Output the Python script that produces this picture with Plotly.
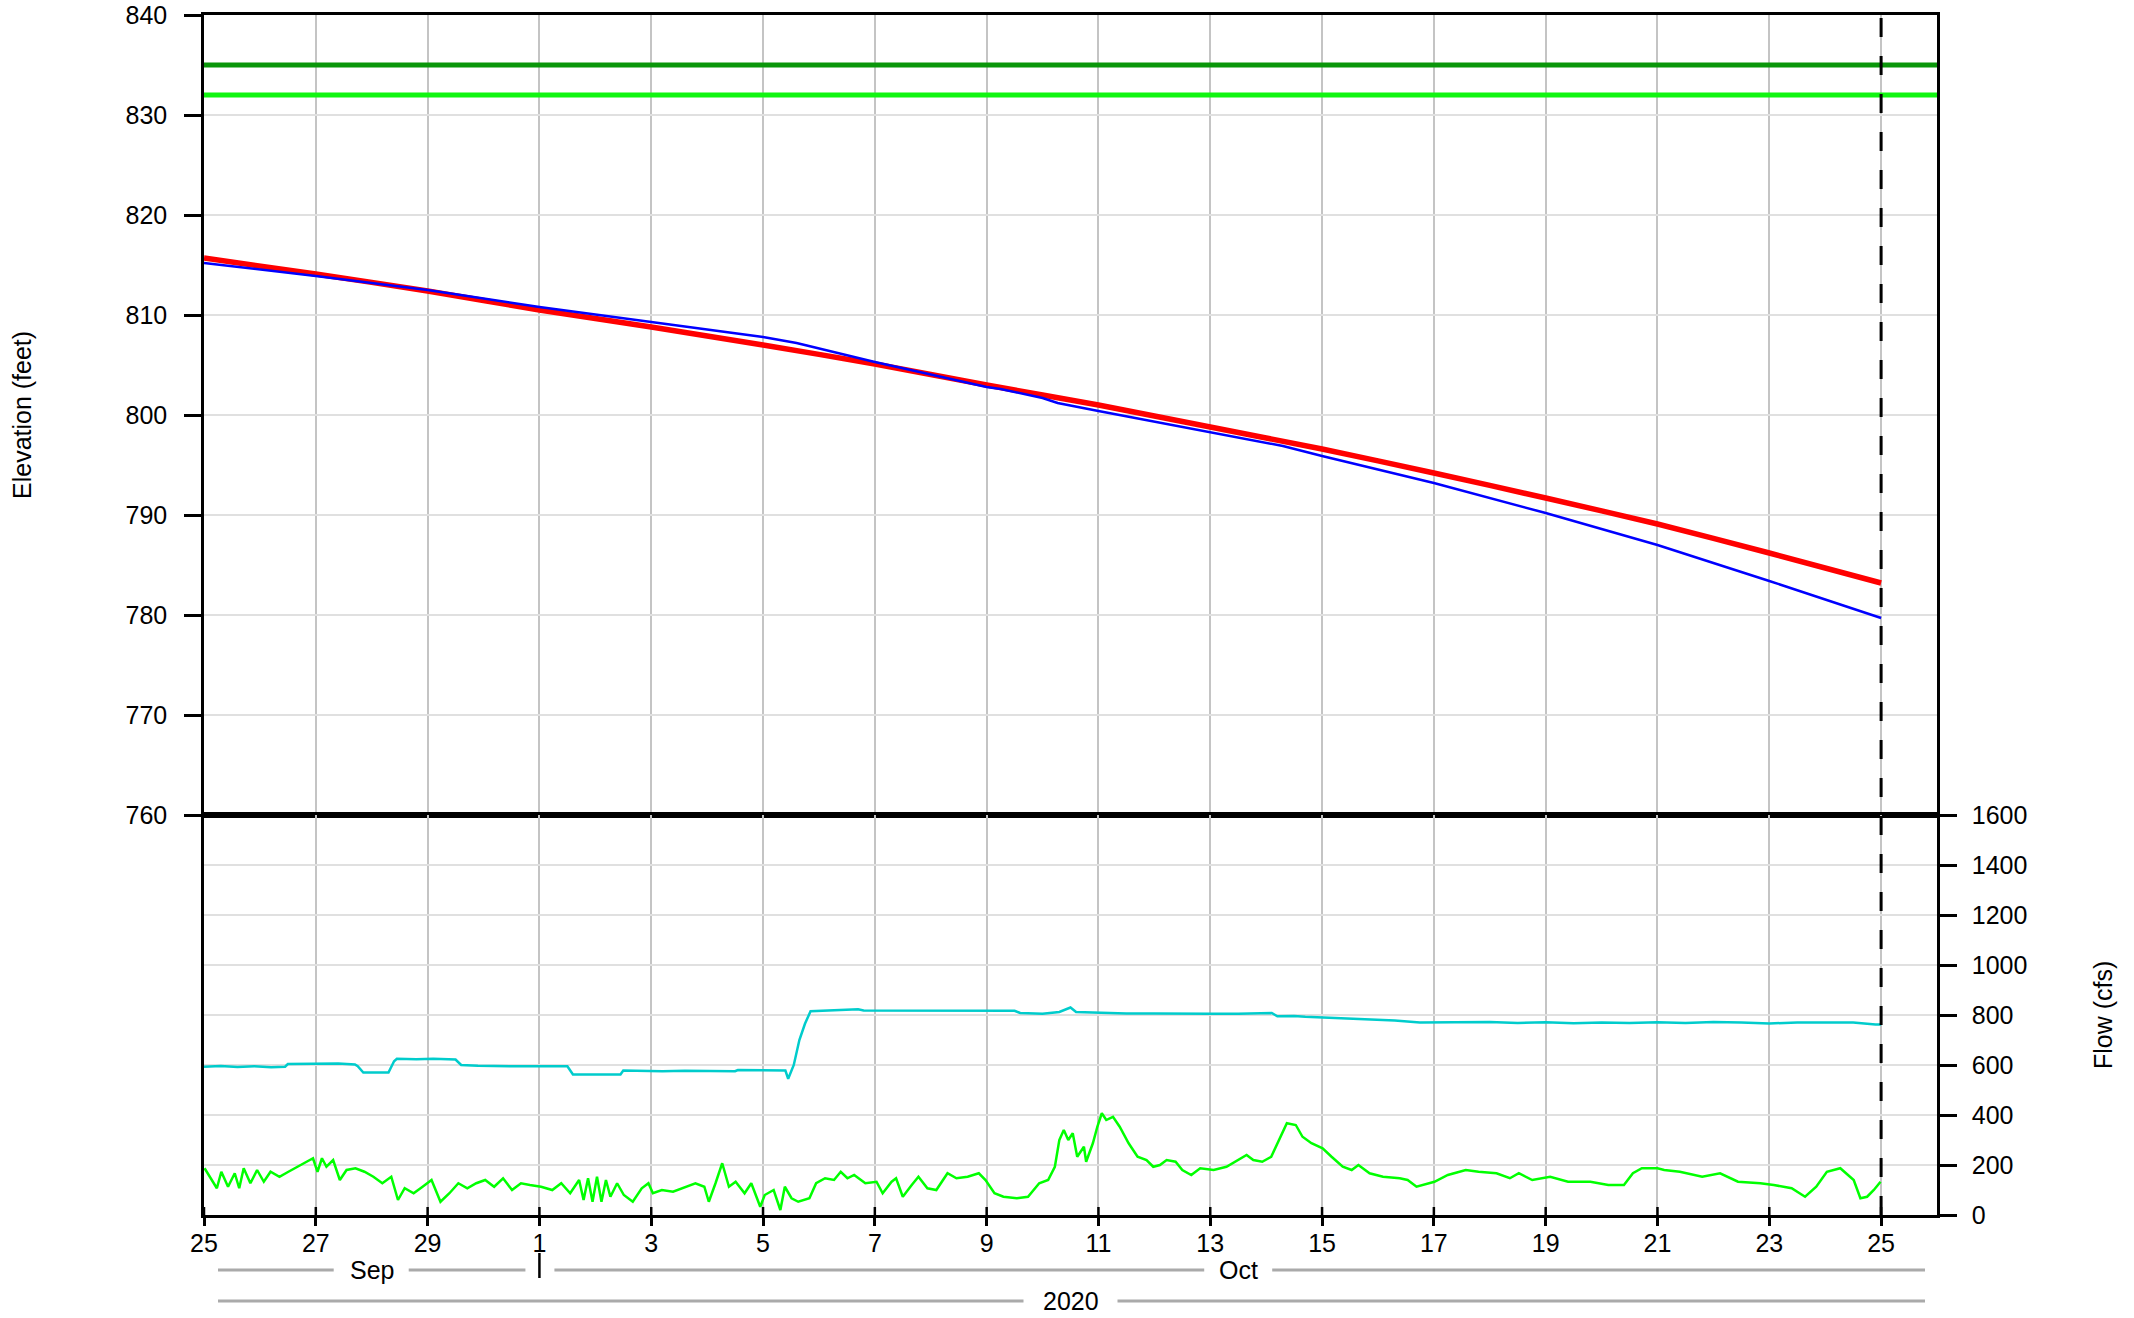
import pandas as pd
import plotly.graph_objects as go

# ---------------- data ----------------
START = "2020-09-25"
END = "2020-10-26"
CURRENT = "2020-10-25"

tick_dates = ["2020-09-25", "2020-09-27", "2020-09-29", "2020-10-01", "2020-10-03",
              "2020-10-05", "2020-10-07", "2020-10-09", "2020-10-11", "2020-10-13",
              "2020-10-15", "2020-10-17", "2020-10-19", "2020-10-21", "2020-10-23",
              "2020-10-25"]
tick_labels = ["25", "27", "29", "1", "3", "5", "7", "9", "11", "13", "15", "17",
               "19", "21", "23", "25"]

# reference levels (feet)
level_values = [835, 832]
level_colors = ["#0a960a", "#11f511"]

# elevation, days since Sep 25
blue_days = [0, 2, 4, 6, 8, 10, 10.6, 12, 14, 14.25, 15.0, 15.27, 16, 18, 19.3, 20,
             22, 24, 26, 28, 30]
blue_elev = [815.2, 813.9, 812.5, 810.8, 809.3, 807.8, 807.2, 805.3, 802.8, 802.6,
             801.7, 801.2, 800.4, 798.3, 796.9, 795.9, 793.2, 790.2, 787.0, 783.4, 779.7]

red_days = [0, 2, 4, 6, 8, 10, 12, 14, 16, 18, 20, 22, 24, 26, 28, 30]
red_elev = [815.7, 814.1, 812.4, 810.5, 808.8, 807.0, 805.1, 803.0, 801.0, 798.8,
            796.6, 794.2, 791.7, 789.1, 786.2, 783.2]

# flow (cfs)
cyan_days = [0.0, 0.3, 0.6, 0.9, 1.2, 1.45, 1.5, 1.8, 2.1, 2.4, 2.7, 2.75, 2.85, 3.3,
             3.4, 3.45, 3.8, 4.1, 4.5, 4.6, 4.9, 5.2, 5.6, 6.0, 6.5, 6.6, 7.0, 7.45,
             7.5, 7.8, 8.2, 8.6, 9.0, 9.5, 9.55, 10.0, 10.4, 10.45, 10.55, 10.65, 10.75,
             10.85, 11.2, 11.7, 11.8, 12.5, 13.5, 14.5, 14.6, 15.0, 15.3, 15.5, 15.6,
             16.0, 16.5, 17.0, 17.5, 18.0, 18.5, 19.0, 19.1, 19.2, 19.5, 19.7, 20.0,
             20.5, 20.9, 21.3, 21.75, 22.3, 23.0, 23.5, 24.0, 24.5, 25.0, 25.5, 26.0,
             26.5, 27.0, 27.5, 28.0, 28.5, 29.0, 29.5, 29.9, 30.0]
cyan_flow = [593, 596, 592, 595, 591, 593, 604, 605, 603, 606, 602, 595, 570, 570,
             615, 625, 623, 625, 622, 600, 597, 595, 595, 595, 595, 562, 562, 562,
             578, 576, 575, 577, 575, 575, 580, 578, 578, 545, 600, 700, 765,
             815, 818, 823, 818, 818, 818, 817, 808, 805, 812, 830, 812,
             808, 806, 806, 804, 805, 805, 806, 808, 795, 796, 793, 790,
             788, 782, 778, 770, 770, 772, 768, 771, 767, 770, 768, 771,
             768, 772, 770, 766, 770, 769, 770, 762, 762]

green_days = [0.01, 0.11, 0.23, 0.31, 0.43, 0.55, 0.63, 0.71, 0.83, 0.95, 1.07, 1.19,
              1.35, 1.51, 1.67, 1.83, 1.95, 2.03, 2.11, 2.19, 2.31, 2.43, 2.55, 2.71,
              2.87, 3.03, 3.19, 3.35, 3.47, 3.59, 3.75, 3.91, 4.07, 4.23, 4.39, 4.55,
              4.71, 4.87, 5.03, 5.19, 5.35, 5.51, 5.67, 5.83, 6.03, 6.23, 6.39, 6.55,
              6.71, 6.79, 6.87, 6.95, 7.03, 7.11, 7.19, 7.27, 7.39, 7.51, 7.67, 7.83,
              7.95, 8.03, 8.19, 8.39, 8.55, 8.79, 8.95, 9.03, 9.15, 9.27, 9.39, 9.51,
              9.67, 9.79, 9.95, 10.03, 10.19, 10.31, 10.39, 10.51, 10.63, 10.83, 10.95,
              11.11, 11.27, 11.39, 11.51, 11.63, 11.83, 12.03, 12.14, 12.30, 12.38,
              12.50, 12.66, 12.78, 12.94, 13.10, 13.30, 13.46, 13.66, 13.86, 13.98,
              14.14, 14.30, 14.54, 14.74, 14.94, 15.10, 15.22, 15.30, 15.38, 15.46,
              15.54, 15.62, 15.74, 15.78, 15.90, 15.98, 16.06, 16.14, 16.26, 16.38,
              16.54, 16.70, 16.86, 16.98, 17.10, 17.22, 17.38, 17.50, 17.66, 17.82,
              18.06, 18.29, 18.45, 18.65, 18.77, 18.93, 19.09, 19.25, 19.37, 19.53,
              19.65, 19.81, 20.01, 20.17, 20.37, 20.53, 20.65, 20.85, 21.09, 21.39,
              21.53, 21.69, 22.01, 22.25, 22.57, 22.80, 23.12, 23.36, 23.52, 23.76,
              24.08, 24.40, 24.80, 25.12, 25.40, 25.56, 25.72, 26.00, 26.12, 26.40,
              26.80, 27.12, 27.44, 27.84, 28.08, 28.40, 28.64, 28.84, 29.03, 29.27,
              29.51, 29.63, 29.75, 29.87, 29.99]
green_flow = [187, 153, 107, 173, 113, 167, 107, 187, 127, 180, 133, 173,
              153, 173, 193, 213, 227, 173, 227, 193, 220, 140, 180, 187,
              173, 153, 127, 153, 60, 107, 87, 113, 140, 53, 87, 127,
              107, 127, 140, 113, 147, 100, 127, 120, 113, 100, 127, 87,
              140, 60, 147, 53, 153, 53, 140, 73, 127, 80, 53, 107,
              127, 87, 100, 93, 107, 127, 113, 53, 127, 207, 113, 133,
              87, 127, 33, 80, 100, 20, 113, 67, 53, 67, 127,
              147, 140, 173, 147, 160, 127, 133, 87, 133, 147,
              73, 120, 153, 107, 100, 167, 147, 153, 167, 140,
              87, 73, 67, 73, 127, 140, 193, 300, 340, 300,
              327, 233, 273, 213, 287, 353, 407, 380, 393, 353,
              287, 233, 220, 193, 200, 220, 213, 180, 160, 187,
              180, 193, 213, 240, 220, 213, 233, 313, 367, 360,
              313, 287, 267, 233, 193, 180, 200, 167, 153, 147,
              140, 113, 133, 160, 180, 173, 167, 147, 167, 140,
              153, 133, 133, 120, 120, 167, 187, 187, 180, 173,
              153, 167, 133, 127, 120, 107, 73, 113, 173, 187,
              140, 67, 73, 100, 133]

# ---------------- helpers ----------------
t0 = pd.Timestamp(START)
t1 = pd.Timestamp(END)


def to_dates(days):
    return [t0 + pd.Timedelta(days=d) for d in days]


PLOT_W, PLOT_H = 1733, 1200
ML, MR, MT, MB = 204, 197, 15, 103


def px_x(date, dx=0.0):
    frac = (pd.Timestamp(date) - t0) / (t1 - t0)
    return frac + dx / PLOT_W


def px_y(dy):  # dy pixels below the plot bottom -> paper y
    return -dy / PLOT_H


FONT = "Liberation Sans, Arial, sans-serif"
FS = 25

fig = go.Figure()

# reference levels
for v, c in zip(level_values, level_colors):
    fig.add_trace(go.Scatter(x=[t0, t1], y=[v, v], mode="lines",
                             line=dict(color=c, width=5), xaxis="x", yaxis="y",
                             hoverinfo="skip", showlegend=False))

fig.add_trace(go.Scatter(x=to_dates(red_days), y=red_elev, mode="lines",
                         line=dict(color="#ff0000", width=5.5, shape="spline", smoothing=0.6),
                         xaxis="x", yaxis="y", showlegend=False))
fig.add_trace(go.Scatter(x=to_dates(blue_days), y=blue_elev, mode="lines",
                         line=dict(color="#0000ff", width=2.5),
                         xaxis="x", yaxis="y", showlegend=False))

fig.add_trace(go.Scatter(x=to_dates(cyan_days), y=cyan_flow, mode="lines",
                         line=dict(color="#00cccc", width=2.5),
                         xaxis="x2", yaxis="y2", showlegend=False))
fig.add_trace(go.Scatter(x=to_dates(green_days), y=green_flow, mode="lines",
                         line=dict(color="#00ff00", width=2.5),
                         xaxis="x2", yaxis="y2", showlegend=False))

shapes = []
# current-time dashed line
shapes.append(dict(type="line", xref="x", yref="paper", x0=CURRENT, x1=CURRENT,
                   y0=0, y1=1, line=dict(color="black", width=3, dash="19px,19px"),
                   layer="above"))
# inside halves of bottom x ticks
for d in tick_dates:
    shapes.append(dict(type="line", xref="x2", yref="paper", x0=d, x1=d,
                       y0=0, y1=8 / PLOT_H, line=dict(color="black", width=2.5),
                       layer="above"))

gray = dict(color="#aaaaaa", width=3)
row1 = px_y(55)
row2 = px_y(86)
sep_c = (px_x("2020-09-25") + px_x("2020-10-01")) / 2
oct_c = (px_x("2020-10-01") + px_x(END)) / 2
yr_c = 0.5
segs = [
    (px_x("2020-09-25", 14), sep_c - 38 / PLOT_W, row1),
    (sep_c + 37 / PLOT_W, px_x("2020-10-01", -14), row1),
    (px_x("2020-10-01", 15), oct_c - 34 / PLOT_W, row1),
    (oct_c + 34 / PLOT_W, px_x(END, -12), row1),
    (px_x(START, 14), yr_c - 47 / PLOT_W, row2),
    (yr_c + 47 / PLOT_W, px_x(END, -12), row2),
]
for a, b, yy in segs:
    shapes.append(dict(type="line", xref="paper", yref="paper", x0=a, x1=b,
                       y0=yy, y1=yy, line=gray))
# month separator tick
shapes.append(dict(type="line", xref="paper", yref="paper",
                   x0=px_x("2020-10-01"), x1=px_x("2020-10-01"),
                   y0=px_y(38), y1=px_y(63), line=dict(color="black", width=2.5)))

annotations = [
    dict(text="Sep", x=sep_c, y=row1, xref="paper", yref="paper", showarrow=False,
         xanchor="center", yanchor="middle", font=dict(family=FONT, size=FS, color="black")),
    dict(text="Oct", x=oct_c, y=row1, xref="paper", yref="paper", showarrow=False,
         xanchor="center", yanchor="middle", font=dict(family=FONT, size=FS, color="black")),
    dict(text="2020", x=yr_c, y=row2, xref="paper", yref="paper", showarrow=False,
         xanchor="center", yanchor="middle", font=dict(family=FONT, size=FS, color="black")),
    dict(text="Elevation (feet)", x=(22 - ML) / PLOT_W, y=(MT + PLOT_H - 415) / PLOT_H,
         xref="paper", yref="paper", showarrow=False, textangle=-90,
         xanchor="center", yanchor="middle", font=dict(family=FONT, size=FS, color="black")),
    dict(text="Flow (cfs)", x=(2103 - ML) / PLOT_W, y=(MT + PLOT_H - 1015) / PLOT_H,
         xref="paper", yref="paper", showarrow=False, textangle=-90,
         xanchor="center", yanchor="middle", font=dict(family=FONT, size=FS, color="black")),
]

axis_common = dict(showline=True, linecolor="black", linewidth=2.5, mirror=True,
                   zeroline=False, automargin=False,
                   tickfont=dict(family=FONT, size=FS, color="black"),
                   tickcolor="black", tickwidth=2.5)

fig.update_layout(
    template="none",
    width=2134, height=1318,
    margin=dict(l=ML, r=MR, t=MT, b=MB, pad=0, autoexpand=False),
    paper_bgcolor="white", plot_bgcolor="white",
    showlegend=False,
    font=dict(family=FONT, size=FS, color="black"),
    xaxis=dict(domain=[0, 1], anchor="y", range=[START, END], tickvals=tick_dates,
               showticklabels=False, ticks="", showgrid=True, gridcolor="#c4c4c4",
               gridwidth=2, **axis_common),
    xaxis2=dict(domain=[0, 1], anchor="y2", range=[START, END], tickvals=tick_dates,
                ticktext=tick_labels, ticks="outside", ticklen=8, ticklabelstandoff=-4,
                showgrid=True, gridcolor="#c4c4c4", gridwidth=2, **axis_common),
    yaxis=dict(domain=[1 / 3, 1], anchor="x", range=[760, 840], dtick=10, side="left",
               ticks="outside", ticklen=17, ticklabelstandoff=12, showgrid=True,
               gridcolor="#e0e0e0", gridwidth=2, **axis_common),
    yaxis2=dict(domain=[0, 1 / 3], anchor="x2", range=[0, 1600], dtick=200, side="right",
                ticks="outside", ticklen=17, ticklabelstandoff=10, showgrid=True,
                gridcolor="#e0e0e0", gridwidth=2, **axis_common),
    shapes=shapes,
    annotations=annotations,
)

fig.write_html("out.html", config={"displayModeBar": False},
               post_script="document.body.style.margin='0';")
